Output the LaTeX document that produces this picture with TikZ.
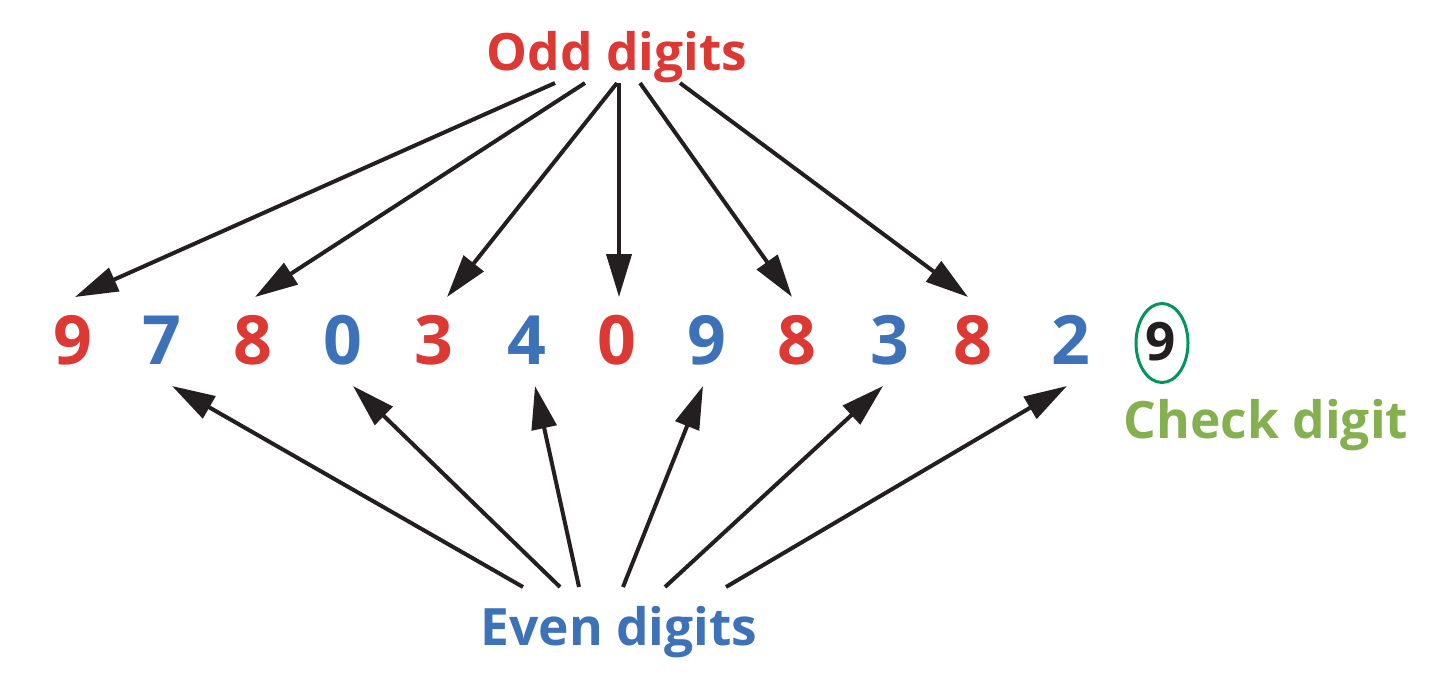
\documentclass[tikz,border=0pt]{standalone}
\usepackage{fontspec}
\setmainfont{Open Sans}
\usetikzlibrary{arrows.meta,shapes.geometric}
\definecolor{oddred}{HTML}{DC3834}
\definecolor{evenblue}{HTML}{3D72B8}
\definecolor{ringgreen}{HTML}{00965A}
\definecolor{checkgreen}{HTML}{84B04F}
\definecolor{ink}{HTML}{231F20}
\tikzset{
  digit/.style={anchor=base, inner sep=0pt, font=\fontsize{68}{70}\selectfont\bfseries},
  odddig/.style={digit, text=oddred},
  evendig/.style={digit, text=evenblue},
  label/.style={anchor=base, inner sep=0pt, font=\fontsize{51.5}{60}\selectfont\bfseries},
  conn/.style={draw=ink, line width=4pt, -{Triangle[length=43pt,width=25pt]}},
}
\begin{document}
\begin{tikzpicture}[x=1pt,y=-1pt]
\useasboundingbox (0,0) rectangle (1442,686);
% labels
\node[label, text=oddred] (odd) at (617,70) {Odd digits};
\node[label, text=evenblue] (even) at (619,645) {Even digits};
\node[label, text=checkgreen] (check) at (1266,438) {Check digit};
% digits
\node[odddig] (d1) at (73,364) {9};
\node[evendig] (d2) at (162,364) {7};
\node[odddig] (d3) at (253,364) {8};
\node[evendig] (d4) at (343,364) {0};
\node[odddig] (d5) at (434,364) {3};
\node[evendig] (d6) at (527,364) {4};
\node[odddig] (d7) at (617,364) {0};
\node[evendig] (d8) at (707,364) {9};
\node[odddig] (d9) at (797,364) {8};
\node[evendig] (d10) at (890,364) {3};
\node[odddig] (d11) at (973,364) {8};
\node[evendig] (d12) at (1071,364) {2};
\node[anchor=base, inner sep=0pt, text=ink, font=\fontsize{53}{56}\selectfont\bfseries] (d13) at (1161,360) {9};
\node[draw=ringgreen, line width=3pt, ellipse, minimum width=52pt, minimum height=79pt, inner sep=0pt] (ring) at (1162,343) {};
% odd connector endpoints
\coordinate (os1) at (555,83);  \coordinate (ot1) at (75,297);
\coordinate (os2) at (585,83);  \coordinate (ot2) at (255,297);
\coordinate (os3) at (617,83);  \coordinate (ot3) at (447,297);
\coordinate (os4) at (619,83);  \coordinate (ot4) at (619,297);
\coordinate (os5) at (640,83);  \coordinate (ot5) at (792,297);
\coordinate (os6) at (680,83);  \coordinate (ot6) at (968,297);
\foreach \i in {1,...,6} \draw[conn] (os\i) -- (ot\i);
% even connector endpoints
\coordinate (es1) at (523,587); \coordinate (et1) at (172,386);
\coordinate (es2) at (560,587); \coordinate (et2) at (353,386);
\coordinate (es3) at (579,587); \coordinate (et3) at (535,386);
\coordinate (es4) at (623,587); \coordinate (et4) at (703,386);
\coordinate (es5) at (665,587); \coordinate (et5) at (883,386);
\coordinate (es6) at (726,587); \coordinate (et6) at (1067,386);
\foreach \i in {1,...,6} \draw[conn] (es\i) -- (et\i);
\end{tikzpicture}
\end{document}
